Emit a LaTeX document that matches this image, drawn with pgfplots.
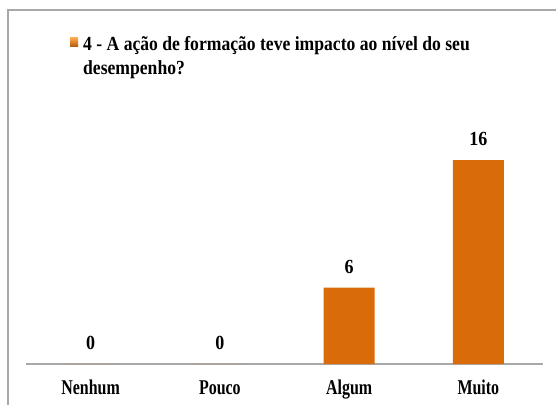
\documentclass[border=0pt]{standalone}
\usepackage{fontspec}
\setmainfont{Liberation Serif}
\newfontfamily\titlefont[FakeStretch=0.88]{Liberation Serif}
\newfontfamily\numfont[FakeStretch=0.90]{Liberation Serif}
\newfontfamily\condensed[FakeStretch=0.76]{Liberation Serif}
\usepackage{pgfplots}
\pgfplotsset{compat=1.18}
\definecolor{barorange}{HTML}{D96C08}
\definecolor{baredge}{HTML}{C86206}
\definecolor{framegray}{HTML}{A8A8A8}
\begin{document}
\begin{tikzpicture}[x=1pt,y=1pt]
\useasboundingbox (0,0) rectangle (556,405);
% outer frame (only top and left visible)
\draw[framegray, line width=1.5pt] (8,0) -- (8,395) -- (556,395);
% title with legend marker
\shade[top color=orange!70!white, bottom color=barorange!80!black] (70,358) rectangle (78,367);
\node[anchor=base west, inner sep=0pt, font=\titlefont\bfseries\fontsize{20}{24}\selectfont] at (83,354) {4 - A ação de formação teve impacto ao nível do seu};
\node[anchor=base west, inner sep=0pt, font=\titlefont\bfseries\fontsize{20}{24}\selectfont] at (83,330) {desempenho?};
\begin{axis}[
  at={(26pt,41pt)}, anchor=south west,
  scale only axis, width=517pt, height=255pt,
  xmin=-0.5, xmax=3.5, ymin=0, ymax=20,
  axis x line*=bottom, axis y line=none,
  x axis line style={framegray, line width=1.2pt},
  xtick={0,1,2,3},
  xticklabels={Nenhum,Pouco,Algum,Muito},
  major tick length=0pt,
  xticklabel style={font=\condensed\bfseries\fontsize{21}{25}\selectfont, inner sep=0pt, anchor=base, yshift=-30pt},
  ybar, bar width=51pt,
  /pgf/number format/assume math mode=true,
  nodes near coords,
  every node near coord/.append style={font=\numfont\bfseries\fontsize{20}{24}\selectfont, inner sep=0pt, anchor=south, yshift=14pt},
]
\addplot[fill=barorange, draw=none] coordinates {(0,0) (1,0) (2,6) (3,16)};
\end{axis}
\end{tikzpicture}
\end{document}
